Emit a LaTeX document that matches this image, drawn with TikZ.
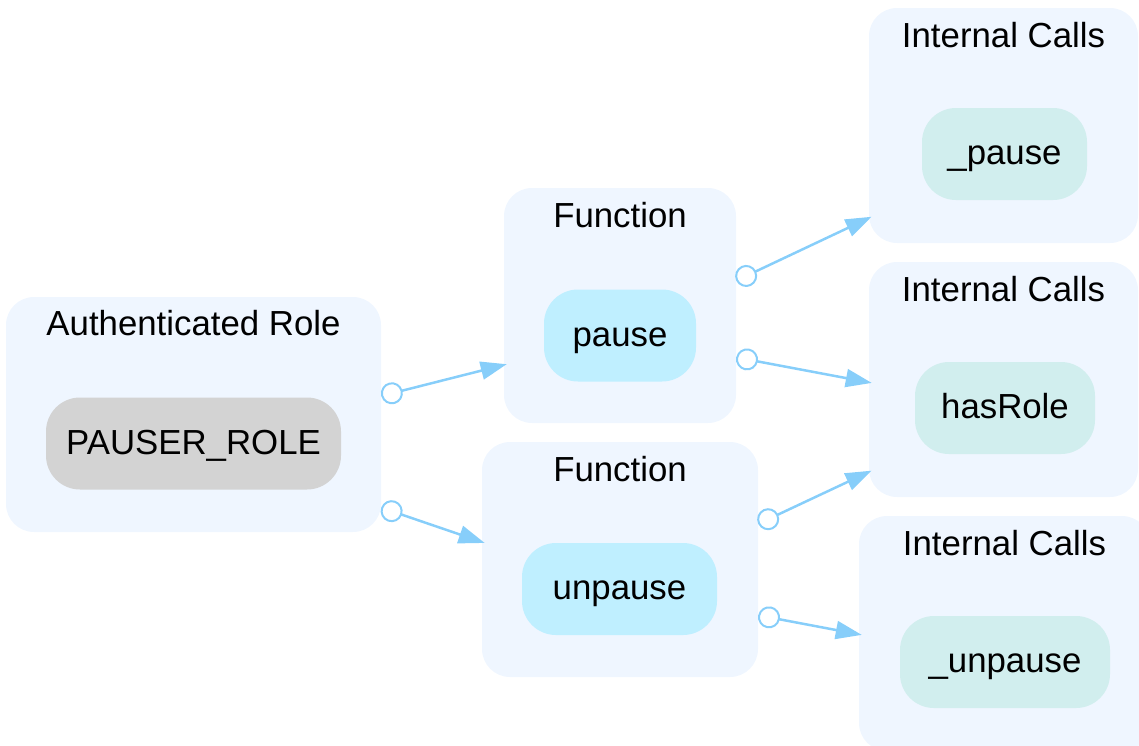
\documentclass[tikz,border=0pt]{standalone}
\usepackage{fontspec}
\setmainfont{Liberation Sans}
\usetikzlibrary{arrows.meta,calc}

\definecolor{clusterbg}{RGB}{239,246,255}
\definecolor{fnblue}{RGB}{191,239,255}
\definecolor{callcyan}{RGB}{209,238,238}
\definecolor{rolegray}{RGB}{211,211,211}
\definecolor{edgeblue}{RGB}{135,206,250}

\begin{document}
\begin{tikzpicture}[
        x=1pt, y=-1pt,
        every node/.style={font=\fontsize{34.8pt}{40pt}\selectfont, inner sep=0pt},
        cluster/.style={rectangle, rounded corners=28pt, fill=clusterbg, minimum height=235pt},
        title/.style={anchor=base},
        item/.style={rectangle, rounded corners=34pt, minimum height=92pt, text height=21pt, text depth=0pt},
        rolebox/.style={item, fill=rolegray},
        funcbox/.style={item, fill=fnblue},
        callbox/.style={item, fill=callcyan},
        edge/.style={{Circle[open,length=22pt,line width=2pt]}-{Triangle[length=26pt,width=18pt]}, draw=edgeblue, line width=2.5pt, shorten >=-3pt}
    ]
        \useasboundingbox (0,0) rectangle (1139,745);
        \clip (0,0) rectangle (1139,745);

        % clusters
        \node[cluster, minimum width=375pt] (cAR) at (193.5,414.5) {};
        \node[cluster, minimum width=232pt] (cF1) at (620,305.5) {};
        \node[cluster, minimum width=276pt] (cF2) at (620,559.5) {};
        \node[cluster, minimum width=269pt] (cIC1) at (1003.5,125.5) {};
        \node[cluster, minimum width=269pt] (cIC2) at (1003.5,379.5) {};
        \node[cluster, minimum width=291pt] (cIC3) at (1004.5,633.5) {};

        \node[title] (tAR) at ($(cAR.north)+(0,39)$) {Authenticated Role};
        \node[title] (tF1) at ($(cF1.north)+(0,40)$) {Function};
        \node[title] (tF2) at ($(cF2.north)+(0,40)$) {Function};
        \node[title] (tIC1) at ($(cIC1.north)+(0,40)$) {Internal Calls};
        \node[title] (tIC2) at ($(cIC2.north)+(0,40)$) {Internal Calls};
        \node[title] (tIC3) at ($(cIC3.north)+(0,40)$) {Internal Calls};

        % nodes
        \node[rolebox, minimum width=295pt] (pauser) at (193.5,443.5) {PAUSER\_ROLE};
        \node[funcbox, minimum width=152pt] (pause) at (620,335.5) {pause};
        \node[funcbox, minimum width=195pt] (unpause) at (619.5,589) {unpause};
        \node[callbox, minimum width=165pt] (ipause) at (1004.5,154) {\_pause};
        \node[callbox, minimum width=180pt] (hasrole) at (1005,408) {hasRole};
        \node[callbox, minimum width=210pt] (iunpause) at (1005,662) {\_unpause};

        % edges, clipped at the cluster borders
        \draw[edge] let \p1=(pauser), \p2=(pause), \p3=(cAR.east), \p4=(cF1.west) in
            (\x3,{\y1+(\x3-\x1)/(\x2-\x1)*(\y2-\y1)}) -- (\x4,{\y1+(\x4-\x1)/(\x2-\x1)*(\y2-\y1)});
        \draw[edge] let \p1=(pauser), \p2=(unpause), \p3=(cAR.east), \p4=(cF2.west) in
            (\x3,{\y1+(\x3-\x1)/(\x2-\x1)*(\y2-\y1)}) -- (\x4,{\y1+(\x4-\x1)/(\x2-\x1)*(\y2-\y1)});
        \draw[edge] let \p1=(pause), \p2=(ipause), \p3=(cF1.east), \p4=(cIC1.west) in
            (\x3,{\y1+(\x3-\x1)/(\x2-\x1)*(\y2-\y1)}) -- (\x4,{\y1+(\x4-\x1)/(\x2-\x1)*(\y2-\y1)});
        \draw[edge] let \p1=(pause), \p2=(hasrole), \p3=(cF1.east), \p4=(cIC2.west) in
            (\x3,{\y1+(\x3-\x1)/(\x2-\x1)*(\y2-\y1)}) -- (\x4,{\y1+(\x4-\x1)/(\x2-\x1)*(\y2-\y1)});
        \draw[edge] let \p1=(unpause), \p2=(hasrole), \p3=(cF2.east), \p4=(cIC2.west) in
            (\x3,{\y1+(\x3-\x1)/(\x2-\x1)*(\y2-\y1)}) -- (\x4,{\y1+(\x4-\x1)/(\x2-\x1)*(\y2-\y1)});
        \draw[edge] let \p1=(unpause), \p2=(iunpause), \p3=(cF2.east), \p4=(cIC3.west) in
            (\x3,{\y1+(\x3-\x1)/(\x2-\x1)*(\y2-\y1)}) -- (\x4,{\y1+(\x4-\x1)/(\x2-\x1)*(\y2-\y1)});
    \end{tikzpicture}
\end{document}
